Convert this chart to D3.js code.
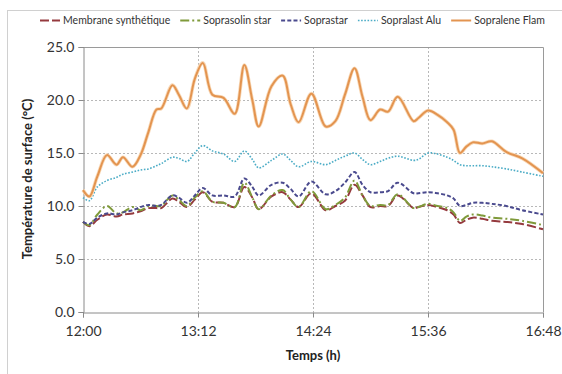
<!DOCTYPE html>
<html><head><meta charset="utf-8">
<script src="https://cdn.jsdelivr.net/npm/d3@7"></script>
<style>
html,body{margin:0;padding:0;background:#fff;}
svg{display:block;font-family:Lato,"Open Sans",sans-serif;}
</style></head>
<body>
<svg id="c" width="562" height="374"></svg>
<script>
const times = ["12:00","12:04","12:09","12:15","12:21","12:25","12:31","12:36","12:41","12:46",
"12:49","12:56","13:00","13:05","13:10","13:15","13:21","13:28","13:35","13:41",
"13:46","13:50","13:58","14:05","14:10","14:15","14:23","14:32","14:38","14:44",
"14:50","14:55","15:00","15:06","15:11","15:17","15:27","15:30","15:36","15:42",
"15:48","15:52","15:56","16:00","16:04","16:10","16:16","16:25","16:35","16:48"];

const membrane = [8.5,8.1,8.7,9.2,9.0,9.2,9.3,9.5,9.8,9.8,
9.8,10.7,10.4,9.9,10.6,11.3,10.4,10.3,9.9,11.8,
10.8,9.7,10.9,11.3,10.6,9.9,11.2,9.6,10.0,10.5,
12.0,11.0,9.9,10.0,10.0,11.0,9.8,9.9,10.1,9.9,
9.6,9.2,8.4,8.7,8.9,8.8,8.6,8.5,8.3,7.8];

const soprasolin = [8.5,8.2,9.2,10.0,9.3,9.4,9.9,9.6,10.0,10.0,
10.0,11.0,10.6,10.0,10.8,11.4,10.4,10.3,9.9,12.2,
10.8,9.7,11.0,11.5,10.6,9.9,11.4,9.7,10.1,10.8,
12.4,11.0,10.0,10.1,10.1,11.1,9.8,9.9,10.2,10.0,
9.8,9.4,8.6,9.0,9.2,9.1,8.9,8.8,8.6,8.2];

const soprastar = [8.5,8.3,8.9,9.3,9.2,9.4,9.6,9.9,10.1,10.0,
10.1,11.0,10.8,10.3,11.0,11.7,11.0,11.0,10.9,12.6,
11.8,11.0,12.0,12.2,11.6,10.9,12.3,11.1,11.4,12.2,
13.2,12.0,11.3,11.3,11.4,12.2,11.2,11.2,11.3,11.2,
11.0,10.7,10.0,10.1,10.3,10.3,10.2,10.0,9.6,9.2];

const sopralast = [10.8,10.5,11.8,12.4,12.7,13.0,13.2,13.4,13.5,13.8,
14.0,14.6,14.5,14.2,15.0,15.7,15.2,14.9,14.2,15.2,
14.4,13.6,14.3,14.9,14.3,13.7,14.2,13.9,14.3,14.7,
15.0,14.4,13.9,14.2,14.5,14.7,14.3,14.4,15.0,14.9,
14.6,14.3,13.9,13.8,13.8,13.8,13.7,13.5,13.2,12.8];

const sopralene = [11.5,10.9,12.8,14.8,13.9,14.6,13.7,14.8,17.0,19.1,
19.2,21.4,20.5,19.2,22.0,23.5,20.5,20.2,18.7,23.3,
20.0,17.5,21.3,22.3,19.6,17.9,20.6,17.5,18.0,20.5,
23.0,20.3,18.1,19.1,18.9,20.3,18.0,18.3,19.0,18.6,
17.9,17.2,15.0,15.6,16.0,15.9,16.1,15.1,14.5,13.1];

const seriesNames = ["Membrane synthétique","Soprasolin star","Soprastar","Sopralast Alu","Sopralene Flam"];
const yTicks = [0,5,10,15,20,25];
const xTickLabels = ["12:00","13:12","14:24","15:36","16:48"];
const yTitle = "Température de surface (°C)";
const xTitle = "Temps (h)";

const styles = [
  {color:"#953a3e", dash:"9,3", width:2},
  {color:"#7f9a3a", dash:"9,3,2,3", width:2},
  {color:"#4a4a8e", dash:"4,2.2", width:2},
  {color:"#4bacc6", dash:"1.6,1.6", width:1.6},
  {color:"#e39450", dash:null, width:2}
];
const valuesList = [membrane, soprasolin, soprastar, sopralast, sopralene];

const parse = d3.timeParse("%H:%M");
const svg = d3.select("#c");
const L = 83, R = 543, T = 47, B = 312;

const x = d3.scaleTime().domain([parse(xTickLabels[0]), parse(xTickLabels[xTickLabels.length-1])]).range([L, R]);
const y = d3.scaleLinear().domain([0, 25]).range([B, T]);

// outer frame
svg.append("rect").attr("x",7.5).attr("y",10.5).attr("width",560).attr("height",370)
  .attr("fill","none").attr("stroke","#d0d0d0").attr("stroke-width",1);

// gridlines
svg.append("g").selectAll("line").data(yTicks.filter(v=>v>0 && v<25)).join("line")
  .attr("x1",L).attr("x2",R).attr("y1",d=>Math.round(y(d))+0.5).attr("y2",d=>Math.round(y(d))+0.5)
  .attr("stroke","#b8b8b8").attr("stroke-dasharray","2,2").attr("stroke-width",1);
svg.append("g").selectAll("line").data(xTickLabels.slice(1,-1)).join("line")
  .attr("x1",d=>Math.round(x(parse(d)))+0.5).attr("x2",d=>Math.round(x(parse(d)))+0.5).attr("y1",T).attr("y2",B)
  .attr("stroke","#b8b8b8").attr("stroke-dasharray","2,2").attr("stroke-width",1);

// plot border top/right
svg.append("path").attr("d",`M${L},${T+0.5}H${R+0.5}V${B}`).attr("fill","none").attr("stroke","#9a9a9a");

// axes
const yAxis = d3.axisLeft(y).tickValues(yTicks).tickFormat(d3.format(".1f")).tickSize(5).tickPadding(4);
const gy = svg.append("g").attr("transform",`translate(${L+0.5},0)`).call(yAxis);
const xAxis = d3.axisBottom(x).tickValues(xTickLabels.map(parse)).tickFormat(d3.timeFormat("%H:%M")).tickSize(5).tickPadding(9);
const gx = svg.append("g").attr("transform",`translate(0,${B+0.5})`).call(xAxis);
[gx,gy].forEach(g=>{
  g.select(".domain").attr("stroke","#8a8a8a");
  g.selectAll(".tick line").attr("stroke","#8a8a8a");
  g.selectAll("text").attr("fill","#333").style("font-size","14px").style("font-family","Lato, sans-serif");
});

// lines
const line = d3.line().x(d=>x(d.t)).y(d=>y(d.v)).curve(d3.curveCatmullRom.alpha(0.5));
const tParsed = times.map(parse);
const gl = svg.append("g");
valuesList.forEach((vals,i)=>{
  const pts = vals.map((v,j)=>({t:tParsed[j], v}));
  if (i===4) {
    gl.append("path").attr("d",line(pts)).attr("fill","none")
      .attr("stroke","#f8d9b8").attr("stroke-width",3.6).attr("stroke-linejoin","round");
  }
  gl.append("path").attr("d",line(pts)).attr("fill","none")
    .attr("stroke",styles[i].color).attr("stroke-width",styles[i].width)
    .attr("stroke-dasharray",styles[i].dash).attr("stroke-linejoin","round");
});

// axis titles
svg.append("text").attr("x",313).attr("y",360).attr("text-anchor","middle")
  .style("font-size","13px").style("font-weight","bold").attr("fill","#222").text(xTitle);
svg.append("text").attr("transform","translate(32,179) rotate(-90)").attr("text-anchor","middle")
  .style("font-size","13px").style("font-weight","bold").attr("fill","#222").text(yTitle);

// legend
const lg = svg.append("g").attr("transform","translate(0,20)");
let lx = 40;
seriesNames.forEach((name,i)=>{
  const g = lg.append("g");
  g.append("line").attr("x1",lx).attr("x2",lx+20).attr("y1",0.5).attr("y2",0.5)
    .attr("stroke",styles[i].color).attr("stroke-width",styles[i].width)
    .attr("stroke-dasharray",styles[i].dash);
  const t = g.append("text").attr("x",lx+23).attr("y",4).style("font-size","10.5px")
    .attr("fill","#333").text(name);
  lx += 23 + t.node().getComputedTextLength() + 10;
});
</script>
</body></html>
